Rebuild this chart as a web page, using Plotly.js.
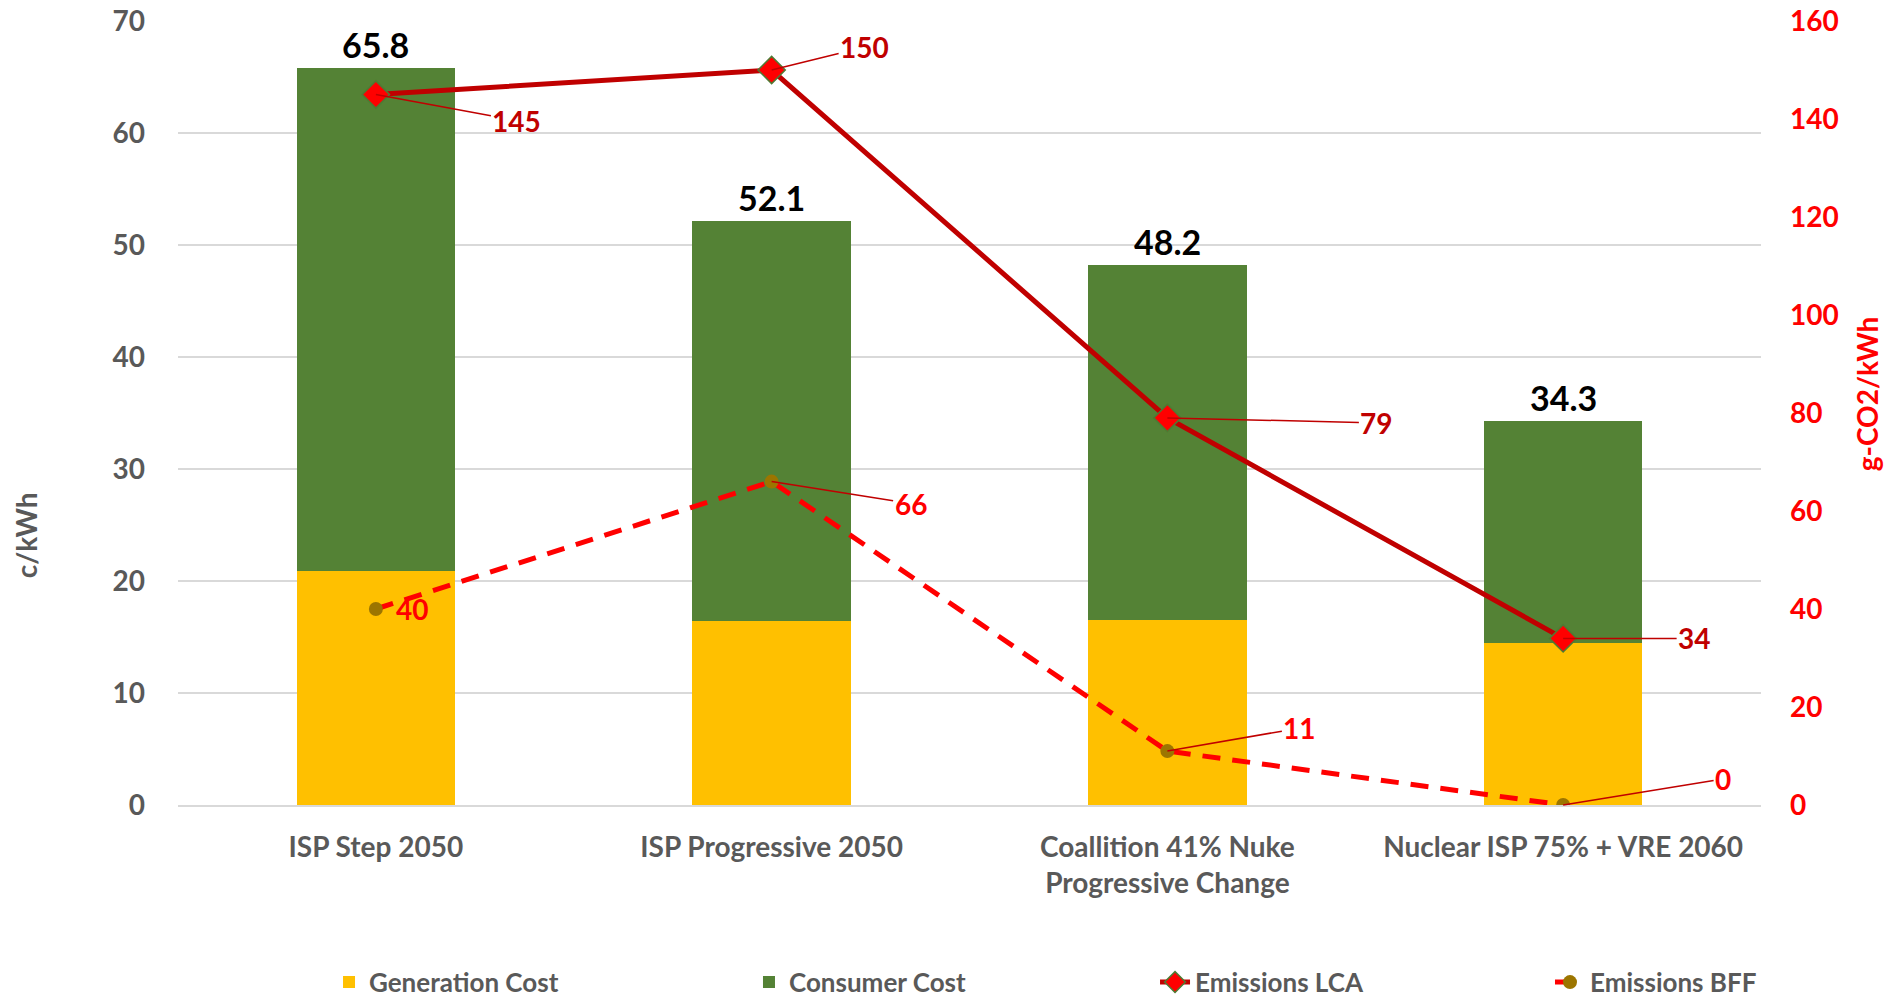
<!DOCTYPE html>
<html>
<head>
<meta charset="utf-8">
<script src="https://cdn.plot.ly/plotly-3.0.1.min.js"></script>
<style>html,body{margin:0;padding:0;background:#fff;}#chart{width:1900px;height:1003px;}</style>
</head>
<body>
<div id="chart"></div>
<script>
// ---- data ----
const categories = ["ISP Step 2050", "ISP Progressive 2050", "Coallition 41% Nuke<br>Progressive Change", "Nuclear ISP 75% + VRE 2060"];
const generationCost = [20.9, 16.4, 16.5, 14.5];
const consumerCost = [44.9, 35.7, 31.7, 19.8];
const totalCost = [65.8, 52.1, 48.2, 34.3];
const emissionsLCA = [145, 150, 79, 34];
const emissionsBFF = [40, 66, 11, 0];
const leftTicks = [0, 10, 20, 30, 40, 50, 60, 70];
const rightTicks = [0, 20, 40, 60, 80, 100, 120, 140, 160];

// ---- styles ----
const FONT = "Lato, 'Open Sans', 'Noto Sans', sans-serif";
const GRAY = "#595959";
const lcaOffsets = [[141, 26], [93, -23], [209, 5], [131, 0]];
const bffOffsets = [[36, 0], [139, 22], [132, -23], [160, -26]];
const legendX = [0.0954, 0.3607, 0.6172, 0.8667];

const traces = [
  {type: "bar", name: "Generation Cost", x: categories, y: generationCost, legend: "legend",
   marker: {color: "#FFC000"}, hoverinfo: "skip"},
  {type: "bar", name: "Consumer Cost", x: categories, y: consumerCost, legend: "legend2",
   marker: {color: "#548235"}, hoverinfo: "skip"},
  {type: "scatter", mode: "lines+markers", name: "Emissions LCA", x: categories, y: emissionsLCA, yaxis: "y2", legend: "legend3",
   line: {color: "#C00000", width: 5},
   marker: {symbol: "diamond", size: 21, color: "#FF0000", line: {color: "#4E7A33", width: 1.5}}, hoverinfo: "skip"},
  {type: "scatter", mode: "lines+markers", name: "Emissions BFF", x: categories, y: emissionsBFF, yaxis: "y2", legend: "legend4",
   line: {color: "#FF0000", width: 5, dash: "18px,12px"},
   marker: {symbol: "circle", size: 14, color: "#9C7500", line: {color: "#9C7500", width: 0}}, hoverinfo: "skip"}
];

const annotations = [];
categories.forEach((c, i) => {
  annotations.push({x: c, y: totalCost[i], xref: "x", yref: "y", text: totalCost[i].toFixed(1),
    showarrow: false, yanchor: "bottom", yshift: 1,
    font: {family: FONT, size: 34, color: "#000000", weight: 700}});
  const lo = lcaOffsets[i];
  annotations.push({x: c, y: emissionsLCA[i], xref: "x", yref: "y2", text: String(emissionsLCA[i]),
    showarrow: true, arrowhead: 0, arrowwidth: 1.5, arrowcolor: "#C00000", ax: lo[0], ay: lo[1], standoff: 0,
    font: {family: FONT, size: 28, color: "#C00000", weight: 700}});
  const bo = bffOffsets[i];
  if (i === 0) {
    annotations.push({x: c, y: emissionsBFF[i], xref: "x", yref: "y2", text: String(emissionsBFF[i]),
      showarrow: false, xshift: bo[0], yshift: -bo[1],
      font: {family: FONT, size: 28, color: "#FF0000", weight: 700}});
  } else {
    annotations.push({x: c, y: emissionsBFF[i], xref: "x", yref: "y2", text: String(emissionsBFF[i]),
      showarrow: true, arrowhead: 0, arrowwidth: 1.5, arrowcolor: "#C00000", ax: bo[0], ay: bo[1], standoff: 0,
      font: {family: FONT, size: 28, color: "#FF0000", weight: 700}});
  }
});
annotations.push({xref: "paper", yref: "paper", x: -0.108, y: 0.344, text: "c/kWh", textangle: -90,
  showarrow: false, font: {family: FONT, size: 28, color: GRAY, weight: 700}});
annotations.push({xref: "paper", yref: "paper", x: 1.079, y: 0.524, text: "g-CO2/kWh", textangle: -90,
  showarrow: false, font: {family: FONT, size: 28, color: "#FF0000", weight: 700}});

function legendAt(x) {
  return {orientation: "h", x: x, xanchor: "left", y: -0.226, yanchor: "middle",
    bgcolor: "rgba(0,0,0,0)", font: {family: FONT, size: 26, color: GRAY, weight: 700}};
}

const layout = {
  width: 1900, height: 1003,
  margin: {l: 178, r: 139, t: 21, b: 198, autoexpand: false},
  paper_bgcolor: "#ffffff", plot_bgcolor: "#ffffff",
  barmode: "stack", bargap: 0.6,
  font: {family: FONT, color: GRAY, weight: 700},
  showlegend: true,
  legend: legendAt(legendX[0]),
  legend2: legendAt(legendX[1]),
  legend3: legendAt(legendX[2]),
  legend4: legendAt(legendX[3]),
  xaxis: {type: "category", showgrid: false, showline: true, linecolor: "#D9D9D9", linewidth: 2,
    ticks: "", ticklabelstandoff: 16, tickfont: {family: FONT, size: 28, color: GRAY, weight: 700}, fixedrange: true},
  yaxis: {range: [0, 70], tickvals: leftTicks, showgrid: true, gridcolor: "#D9D9D9", gridwidth: 1.5,
    zeroline: false, showline: false, ticks: "", ticklabelstandoff: 32,
    tickfont: {family: FONT, size: 28, color: GRAY, weight: 700}, fixedrange: true},
  yaxis2: {range: [0, 160], tickvals: rightTicks, overlaying: "y", side: "right", showgrid: false,
    zeroline: false, showline: false, ticks: "", ticklabelstandoff: 28,
    tickfont: {family: FONT, size: 28, color: "#FF0000", weight: 700}, fixedrange: true},
  annotations: annotations
};

Plotly.newPlot("chart", traces, layout, {staticPlot: true, displayModeBar: false});
</script>
</body>
</html>
